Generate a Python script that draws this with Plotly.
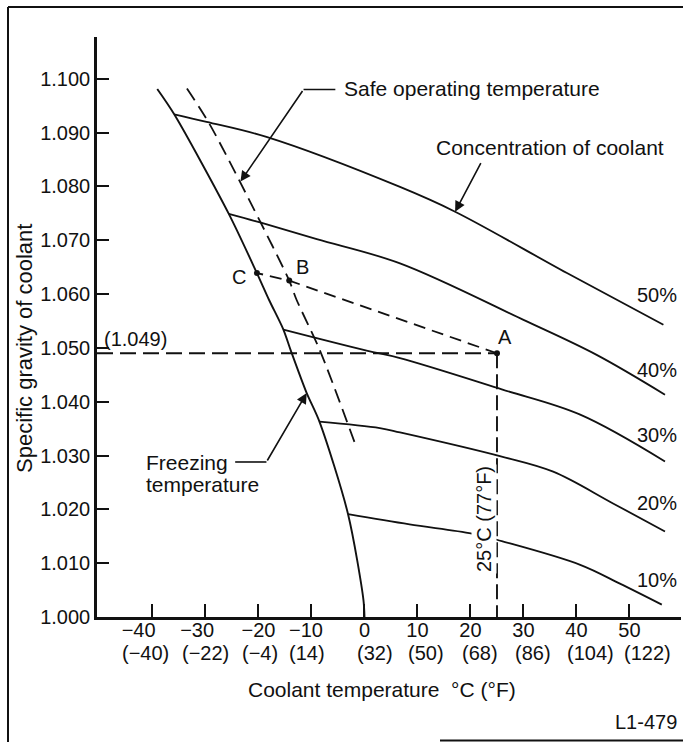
import plotly.graph_objects as go

# ---- data -------------------------------------------------------------
# freezing temperature of the coolant mixture
freeze_temp = [-39.1, -35.9, -25.6, -20.3, -18.0, -15.3, -13.9, -10.9, -8.5, -3.1, -0.2, 0.0]
freeze_sg = [1.0981, 1.0934, 1.0749, 1.0639, 1.0589, 1.0534, 1.0495, 1.0416, 1.0363, 1.0191, 1.0032, 1.0000]

# safe operating temperature
safe_temp = [-33.5, -29.3, -19.7, -14.2, -12.8, -8.4, -1.7]
safe_sg = [1.0982, 1.0917, 1.0735, 1.0625, 1.0589, 1.0495, 1.0320]

# specific gravity vs temperature for each coolant concentration
conc_labels = ["50%", "40%", "30%", "20%", "10%"]
temp_50 = [-35.9, -29.8, -18.5, 6.7, 17.1, 38.2, 56.4]
sg_50 = [1.0934, 1.0920, 1.0892, 1.0799, 1.0753, 1.0639, 1.0543]
temp_40 = [-25.6, -19.7, -9.0, 6.7, 30.0, 43.8, 56.7]
sg_40 = [1.0749, 1.0733, 1.0702, 1.0657, 1.0552, 1.0487, 1.0413]
temp_30 = [-15.3, 0.4, 6.7, 25.9, 40.7, 56.7]
sg_30 = [1.0534, 1.0495, 1.0481, 1.0423, 1.0376, 1.0289]
temp_20 = [-8.5, 2.9, 6.7, 25.9, 35.6, 46.9, 56.7]
sg_20 = [1.0363, 1.0351, 1.0343, 1.0298, 1.0270, 1.0211, 1.0159]
temp_10 = [-3.1, 8.5, 20.3, 25.9, 40.7, 48.2, 56.1]
sg_10 = [1.0191, 1.0172, 1.0155, 1.0141, 1.0097, 1.0062, 1.0023]

# worked example: measured at A, safe limit at B, freezing at C
measured_temp = 25
measured_sg = 1.049
point_names = ["A", "B", "C"]
point_temp = [measured_temp, -14.2, -20.3]
point_sg = [measured_sg, 1.0625, 1.0639]

# axis ticks
x_ticks = [-40, -30, -20, -10, 0, 10, 20, 30, 40, 50]
x_tick_f = ["(\u221240)", "(\u221222)", "(\u22124)", "(14)", "(32)", "(50)", "(68)", "(86)", "(104)", "(122)"]
y_ticks = [1.000, 1.010, 1.020, 1.030, 1.040, 1.050, 1.060, 1.070, 1.080, 1.090, 1.100]

# ---- layout geometry (pixels) ----------------------------------------
W, H = 683, 742
PL, PR, PT, PB = 97, 681, 37, 617
X_RANGE = [-50.47, 59.72]
Y_RANGE = [1.0, 1.10776]


def px(x):
    return (x - PL) / (PR - PL)


def py(y):
    return (PB - y) / (PB - PT)


FONT = "Liberation Sans, Arial, Helvetica, sans-serif"
FS = 20
FS_TEXT = 21
BLACK = "#111111"
NBSP = "\u00a0"

fig = go.Figure()

curve_line = dict(color=BLACK, width=1.8, shape="spline", smoothing=1.0)
for t, s in [(temp_50, sg_50), (temp_40, sg_40), (temp_30, sg_30), (temp_20, sg_20), (temp_10, sg_10)]:
    fig.add_trace(go.Scatter(x=t, y=s, mode="lines", line=curve_line, hoverinfo="skip"))

fig.add_trace(go.Scatter(x=freeze_temp, y=freeze_sg, mode="lines",
                         line=dict(color=BLACK, width=1.9, shape="spline", smoothing=0.8),
                         hoverinfo="skip"))
fig.add_trace(go.Scatter(x=safe_temp, y=safe_sg, mode="lines",
                         line=dict(color=BLACK, width=1.8, dash="14px,7px", shape="spline", smoothing=0.8),
                         hoverinfo="skip"))

# reading lines for the measured sample
fig.add_trace(go.Scatter(x=[X_RANGE[0], measured_temp], y=[measured_sg, measured_sg], mode="lines",
                         line=dict(color=BLACK, width=1.9, dash="16px,7px"), hoverinfo="skip"))
fig.add_trace(go.Scatter(x=[measured_temp, measured_temp], y=[measured_sg, Y_RANGE[0]], mode="lines",
                         line=dict(color=BLACK, width=1.9, dash="15px,6px"), hoverinfo="skip"))
# A -> B -> C
fig.add_trace(go.Scatter(x=point_temp, y=point_sg, mode="lines+markers",
                         line=dict(color=BLACK, width=1.8, dash="12px,7px"),
                         marker=dict(color=BLACK, size=6), hoverinfo="skip"))

annotations = []


def label(text, x, y, xanchor="center", yanchor="middle", size=FS_TEXT, angle=0, bg=None):
    d = dict(text=text, xref="paper", yref="paper", x=px(x), y=py(y), xanchor=xanchor,
             yanchor=yanchor, showarrow=False, textangle=angle,
             font=dict(family=FONT, size=size, color=BLACK))
    if bg:
        d["bgcolor"] = bg
    annotations.append(d)


# point labels
label("A", 505, 337, size=FS)
label("B", 302, 267, size=FS)
label("C", 239, 277, size=FS)
label("(1.049)", 102, 339, xanchor="left", size=FS)
label("25\u00b0C (77\u00b0F)", 484, 519, angle=-90, bg="white", size=FS)

# concentration labels
for name, ypix in zip(conc_labels, [295, 370, 435, 503, 580]):
    label(name, 679, ypix, xanchor="right", size=FS)

# Fahrenheit row of the temperature scale (set slightly apart, as typeset)
f_row_px = [145, 205, 260, 307, 375, 426, 480, 533, 590, 647]
for f, xp in zip(x_tick_f, f_row_px):
    label(f, xp, 652.5, size=FS)

# callouts
label("Safe operating temperature", 342, 89, xanchor="left")
label("Concentration of coolant", 550, 147)
label("Freezing", 144, 462, xanchor="left")
label("temperature", 144, 484, xanchor="left")

# axis titles and figure code
label("Specific gravity of coolant", 24, 349, angle=-90, size=22)
label("Coolant temperature  \u00b0C (\u00b0F)", 382, 689)
label("L1-479", 679, 722, xanchor="right", size=FS)


def arrow(x0, y0, x1, y1):
    annotations.append(dict(text="", x=x1, y=y1, ax=x0, ay=y0, xref="x", yref="y",
                            axref="x", ayref="y", showarrow=True, arrowhead=2,
                            arrowsize=1.3, arrowwidth=1.6, arrowcolor=BLACK, standoff=0))


arrow(-11.5, 1.0980, -23.4, 1.0809)   # safe operating temperature
arrow(22.1, 1.0846, 17.1, 1.0753)     # concentration of coolant
arrow(-18.5, 1.0288, -10.9, 1.0416)   # freezing temperature

shapes = [
    # short horizontal leader stubs
    dict(type="line", xref="x", yref="y", x0=-11.5, y0=1.0980, x1=-5.5, y1=1.0980,
         line=dict(color=BLACK, width=1.6)),
    dict(type="line", xref="x", yref="y", x0=-24.4, y0=1.0288, x1=-18.5, y1=1.0288,
         line=dict(color=BLACK, width=1.6)),
    # page frame
    dict(type="line", xref="paper", yref="paper", x0=px(8), y0=py(7), x1=px(8), y1=py(742),
         line=dict(color=BLACK, width=2)),
    dict(type="line", xref="paper", yref="paper", x0=px(8), y0=py(7), x1=px(683), y1=py(7),
         line=dict(color=BLACK, width=2)),
    dict(type="line", xref="paper", yref="paper", x0=px(440), y0=py(740.5), x1=px(683), y1=py(740.5),
         line=dict(color=BLACK, width=2)),
]

fig.update_layout(
    width=W, height=H,
    margin=dict(l=PL, r=W - PR, t=PT, b=H - PB),
    paper_bgcolor="white", plot_bgcolor="white",
    showlegend=False,
    annotations=annotations,
    shapes=shapes,
    font=dict(family=FONT, size=FS, color=BLACK),
)


def celsius_text(t):
    # negative values: the minus sign hangs to the left of the tick
    if t < 0:
        pad = {-40: 5, -30: 3, -20: 0, -10: 2}.get(t, 0)
        return "\u2212" + str(abs(t)) + NBSP * pad
    return str(t)


fig.update_xaxes(
    range=X_RANGE, showgrid=False, zeroline=False,
    showline=True, linecolor=BLACK, linewidth=2.5,
    ticks="inside", ticklen=13, tickwidth=2, tickcolor=BLACK,
    tickvals=x_ticks,
    ticktext=[celsius_text(t) for t in x_ticks],
    tickangle=0,
    ticklabelstandoff=-7,
    tickfont=dict(family=FONT, size=FS, color=BLACK),
)
fig.update_yaxes(
    range=Y_RANGE, showgrid=False, zeroline=False,
    showline=True, linecolor=BLACK, linewidth=2.5,
    ticks="inside", ticklen=12, tickwidth=2, tickcolor=BLACK,
    tickvals=y_ticks, ticktext=[f"{v:.3f}" for v in y_ticks],
    tickfont=dict(family=FONT, size=FS, color=BLACK),
)

fig.write_html("out.html")
